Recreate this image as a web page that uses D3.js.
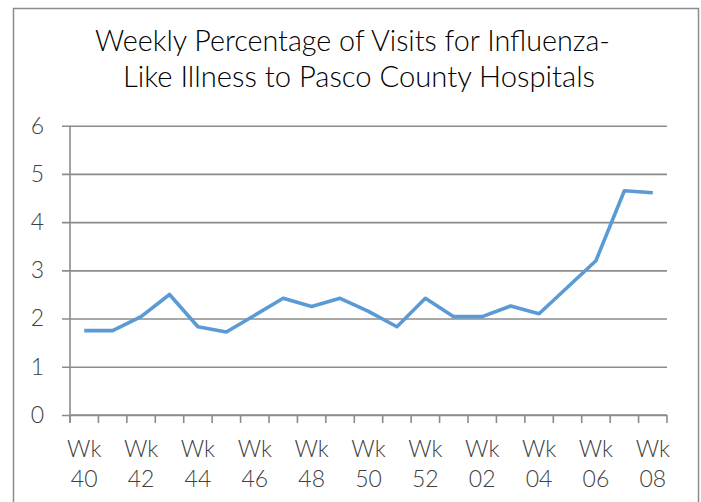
<!DOCTYPE html>
<html>
<head>
<meta charset="utf-8">
<script src="https://cdn.jsdelivr.net/npm/d3@7"></script>
<style>
  body { margin: 0; background: #fff; }
  text { font-family: Lato, "Open Sans", sans-serif; font-weight: 300; }
</style>
</head>
<body>
<div id="chart"></div>
<script>
// weeks of the flu season (2nd year starts at 01)
var weeks = ["40","41","42","43","44","45","46","47","48","49","50","51","52",
             "01","02","03","04","05","06","07","08"];
var percent = [1.75, 1.75, 2.04, 2.50, 1.83, 1.72, 2.07, 2.42, 2.25, 2.42, 2.15,
               1.83, 2.42, 2.04, 2.04, 2.26, 2.10, 2.65, 3.20, 4.65, 4.61];
var yTicks = [0, 1, 2, 3, 4, 5, 6];
var titleLines = ["Weekly Percentage of Visits for Influenza-",
                  "Like Illness to Pasco County Hospitals"];

var W = 701, H = 502;
var margin = {top: 125.7, right: 34, bottom: 87, left: 70};
var width = W - margin.left - margin.right,
    height = H - margin.top - margin.bottom;

var svg = d3.select("#chart").append("svg")
  .attr("width", W)
  .attr("height", H);

// outer chart border
svg.append("rect")
  .attr("x", 13.5).attr("y", 8.5)
  .attr("width", 685).attr("height", 520)
  .attr("fill", "none")
  .attr("stroke", "#8c8c8c")
  .attr("stroke-width", 1.5);

// title
svg.selectAll(".title")
  .data(titleLines)
  .enter().append("text")
    .attr("class", "title")
    .attr("x", function(d, i) { return i == 0 ? 352.5 : 359; })
    .attr("y", function(d, i) { return 51 + i * 36; })
    .attr("text-anchor", "middle")
    .attr("font-size", "29px")
    .attr("fill", "#000")
    .attr("textLength", function(d, i) { return i == 0 ? 515 : 472; })
    .attr("lengthAdjust", "spacingAndGlyphs")
    .text(function(d) { return d; });

var g = svg.append("g")
  .attr("transform", "translate(" + margin.left + "," + margin.top + ")");

var x = d3.scaleBand()
  .domain(weeks)
  .range([0, width])
  .padding(0);

var y = d3.scaleLinear()
  .domain([0, 6])
  .range([height, 0]);

// horizontal gridlines (they stick out left of the axis like ticks)
g.append("g")
  .attr("class", "grid")
  .attr("transform", "translate(-8,0)")
  .call(d3.axisLeft(y).tickValues(yTicks).tickSize(-(width + 8)).tickFormat(""))
  .call(function(s) {
    s.select(".domain").remove();
    s.selectAll("line").attr("stroke", "#8c8c8c").attr("stroke-width", 1.6);
  });

// y labels
g.append("g")
  .attr("transform", "translate(-8,0)")
  .call(d3.axisLeft(y).tickValues(yTicks).tickSize(0).tickPadding(18)
    .tickFormat(d3.format("d")))
  .call(function(s) {
    s.select(".domain").remove();
    s.selectAll("text")
      .attr("font-size", "23px")
      .attr("fill", "#404040")
      .attr("font-family", "Lato, sans-serif");
  });

// y axis line
g.append("line")
  .attr("x1", 0).attr("x2", 0)
  .attr("y1", y(6)).attr("y2", height + 8)
  .attr("stroke", "#8c8c8c").attr("stroke-width", 1.6);

// x axis line + tick marks between categories
g.append("line")
  .attr("x1", 0).attr("x2", width)
  .attr("y1", height).attr("y2", height)
  .attr("stroke", "#8c8c8c").attr("stroke-width", 1.6);

g.selectAll(".xtick")
  .data(d3.range(weeks.length + 1))
  .enter().append("line")
    .attr("class", "xtick")
    .attr("x1", function(i) { return i * x.step(); })
    .attr("x2", function(i) { return i * x.step(); })
    .attr("y1", height).attr("y2", height + 8)
    .attr("stroke", "#8c8c8c").attr("stroke-width", 1.6);

// x labels, every other week, two lines
g.append("g")
  .attr("transform", "translate(0," + height + ")")
  .call(d3.axisBottom(x)
    .tickValues(weeks.filter(function(d, i) { return i % 2 == 0; }))
    .tickSize(0)
    .tickFormat(""))
  .call(function(s) {
    s.select(".domain").remove();
    s.selectAll(".tick text").remove();
    var t = s.selectAll(".tick").append("text")
      .attr("text-anchor", "middle")
      .attr("font-size", "23px")
      .attr("fill", "#404040");
    t.append("tspan").attr("x", 0).attr("y", 42).text("Wk");
    t.append("tspan").attr("x", 0).attr("y", 72).text(function(d) { return d; });
  });

// the line
var line = d3.line()
  .x(function(d, i) { return x(weeks[i]) + x.bandwidth() / 2; })
  .y(function(d) { return y(d); });

g.append("path")
  .datum(percent)
  .attr("fill", "none")
  .attr("stroke", "#5b9bd5")
  .attr("stroke-width", 3.6)
  .attr("stroke-linejoin", "round")
  .attr("d", line);
</script>
</body>
</html>
